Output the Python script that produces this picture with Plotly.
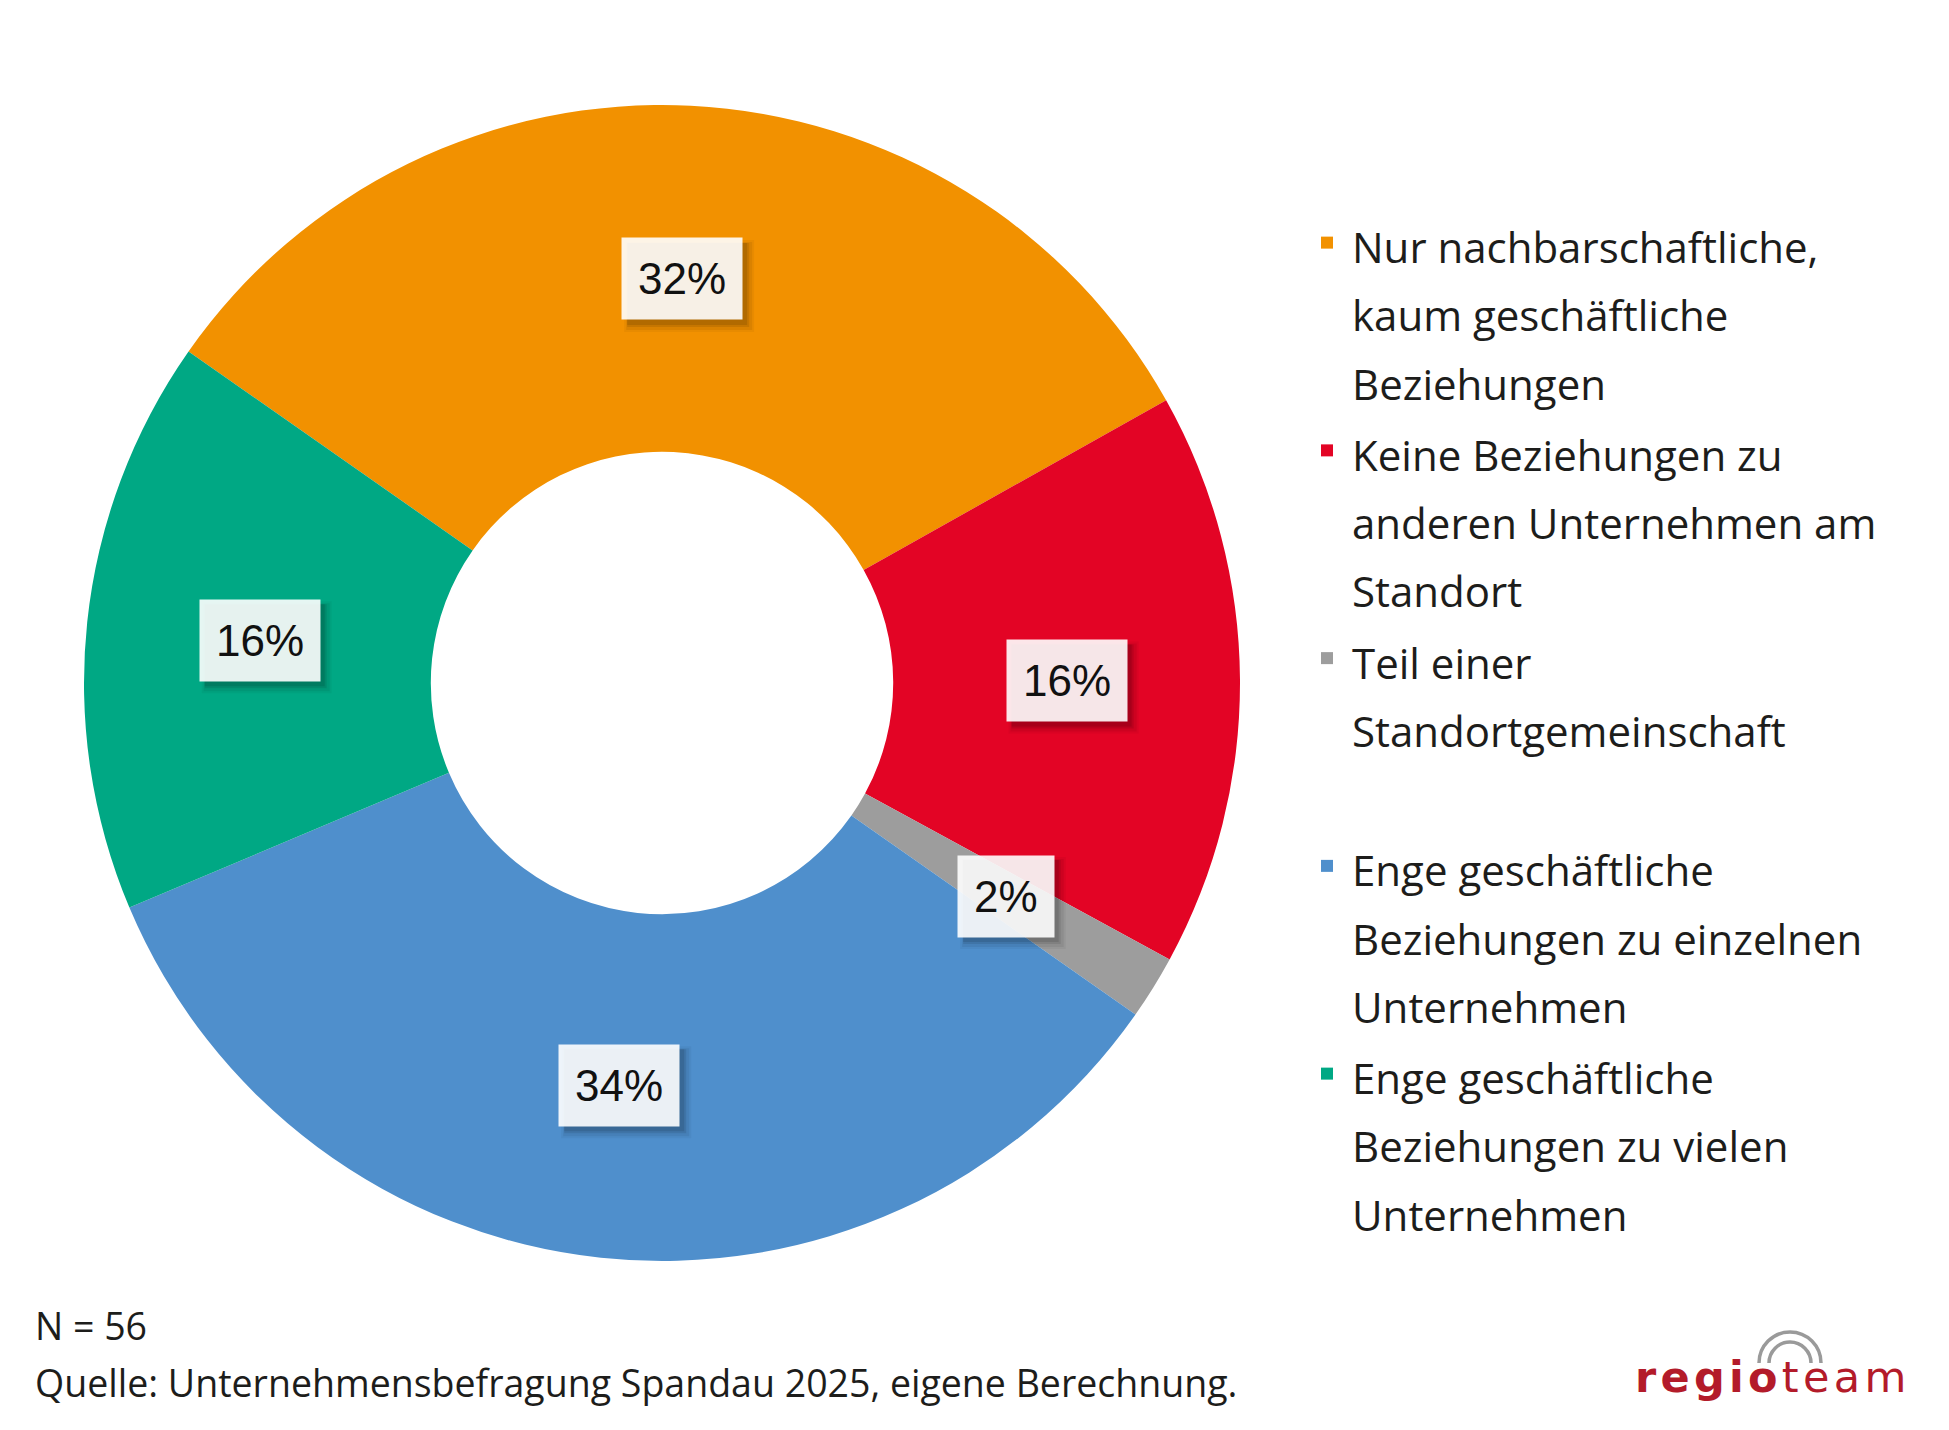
import plotly.graph_objects as go
import math

# ---- data ----
categories = [
    "Nur nachbarschaftliche, kaum geschäftliche Beziehungen",
    "Keine Beziehungen zu anderen Unternehmen am Standort",
    "Teil einer Standortgemeinschaft",
    "Enge geschäftliche Beziehungen zu einzelnen Unternehmen",
    "Enge geschäftliche Beziehungen zu vielen Unternehmen",
]
legend_lines = [
    ["Nur nachbarschaftliche,", "kaum geschäftliche", "Beziehungen"],
    ["Keine Beziehungen zu", "anderen Unternehmen am", "Standort"],
    ["Teil einer", "Standortgemeinschaft", "\u00a0"],
    ["Enge geschäftliche", "Beziehungen zu einzelnen", "Unternehmen"],
    ["Enge geschäftliche", "Beziehungen zu vielen", "Unternehmen"],
]
counts = [18, 9, 1, 19, 9]   # N = 56
colors = ["#F29100", "#E30425", "#9D9D9D", "#4F8FCC", "#00A884"]
N = sum(counts)
footer_n = "N = 56"
footer_src = "Quelle: Unternehmensbefragung Spandau 2025, eigene Berechnung."

# ---- layout constants (screen pixel coordinates) ----
W, H = 1949, 1430
OFF = 8                             # default page body margin
CX, CY, R = 662, 683, 578           # donut centre / radius on screen
HOLE = 0.4
ROT = -55
TXT = "#1d1d1b"
LEG_FONT = 42
FONT = "Open Sans"
LBL_SIZE = 44
PAD = 16
BOX_H = 82                          # label box height (px)

def px2paper(x, y):
    return (x - OFF) / W, 1 - (y - OFF) / H

dom_x = [(CX - OFF - R) / W, (CX - OFF + R) / W]
dom_y = [1 - (CY - OFF + R) / H, 1 - (CY - OFF - R) / H]

def leg_label(lines):
    return "<br>".join(f'<span style="font-size:{LEG_FONT}px">{l}</span>' for l in lines)

fig = go.Figure()
fig.add_trace(go.Pie(
    labels=[leg_label(l) for l in legend_lines],
    values=counts,
    sort=False,
    direction="clockwise",
    rotation=ROT,
    hole=HOLE,
    marker=dict(colors=colors, line=dict(width=0)),
    textinfo="none",
    hoverinfo="skip",
    domain=dict(x=dom_x, y=dom_y),
))

# percentage labels with boxes, placed at mid-ring of each slice
annotations = []
shapes = []
cum = 0
rmid = R * (1 + HOLE) / 2
for c in counts:
    mid = (cum + c / 2) / N * 360 + ROT
    cum += c
    a = math.radians(mid)
    px = CX + rmid * math.sin(a)
    py = CY - rmid * math.cos(a)
    x, y = px2paper(px, py)
    pct = f"{round(c / N * 100)}%"
    box_w = (0.556 * (len(pct) - 1) + 0.889) * LBL_SIZE + 2 * PAD
    # soft drop shadow behind the label box
    for sh, grow, alpha in [(7, 5, 0.04), (7, 3, 0.06), (6, 1, 0.09), (5, 0, 0.10)]:
        x0, y0 = px2paper(px - box_w / 2 + sh - grow, py - BOX_H / 2 + sh - grow)
        x1, y1 = px2paper(px + box_w / 2 + sh + grow, py + BOX_H / 2 + sh + grow)
        shapes.append(dict(type="rect", xref="paper", yref="paper",
                           x0=x0, y0=y0, x1=x1, y1=y1, line=dict(width=0),
                           fillcolor=f"rgba(0,0,0,{alpha})"))
    annotations.append(dict(
        x=x, y=y, xref="paper", yref="paper", text=pct, showarrow=False,
        xanchor="center", yanchor="middle",
        font=dict(family="Liberation Sans, Arial", size=LBL_SIZE, color="#111111"),
        bgcolor="rgba(255,255,255,0.9)", borderpad=PAD,
    ))

# footer
fx, fy = px2paper(33, 1325)
annotations.append(dict(x=fx, y=fy, xref="paper", yref="paper", text=footer_n,
                        showarrow=False, xanchor="left", yanchor="middle",
                        font=dict(family=FONT, size=37.5, color=TXT)))
fx, fy = px2paper(33, 1382)
annotations.append(dict(x=fx, y=fy, xref="paper", yref="paper", text=footer_src,
                        showarrow=False, xanchor="left", yanchor="middle",
                        font=dict(family=FONT, size=37.5, color=TXT)))

# logo
lx, ly = px2paper(1908, 1392)
annotations.append(dict(
    x=lx, y=ly, xref="paper", yref="paper", showarrow=False,
    xanchor="right", yanchor="bottom", yshift=-12,
    text="<b>r\u200ae\u200ag\u200ai\u200ao</b>\u200at\u200ae\u200aa\u200am",
    font=dict(family="DejaVu Sans", size=43, color="#B31B2A"),
))

k = 0.5523
for r in (31, 21):
    acx, acy = 1790, 1363
    pts = [(acx - r, acy), (acx - r, acy - k * r), (acx - k * r, acy - r), (acx, acy - r),
           (acx + k * r, acy - r), (acx + r, acy - k * r), (acx + r, acy)]
    pp = [px2paper(*p) for p in pts]
    path = "M {} {} C {} {} {} {} {} {} C {} {} {} {} {} {}".format(
        *[v for p in pp for v in p])
    shapes.append(dict(type="path", xref="paper", yref="paper", path=path,
                       line=dict(color="#9A9A9A", width=3.5), fillcolor="rgba(0,0,0,0)"))

lgx, lgy = px2paper(1302, 202)
fig.update_layout(
    width=W, height=H,
    margin=dict(l=0, r=0, t=0, b=0),
    paper_bgcolor="white",
    plot_bgcolor="white",
    showlegend=True,
    legend=dict(
        x=lgx, y=lgy, xanchor="left", yanchor="top",
        font=dict(family=FONT, size=52.5, color=TXT),
        itemwidth=40, valign="top", traceorder="normal",
        itemclick=False, itemdoubleclick=False,
    ),
    annotations=annotations,
    shapes=shapes,
)

fig.write_html("out.html")
